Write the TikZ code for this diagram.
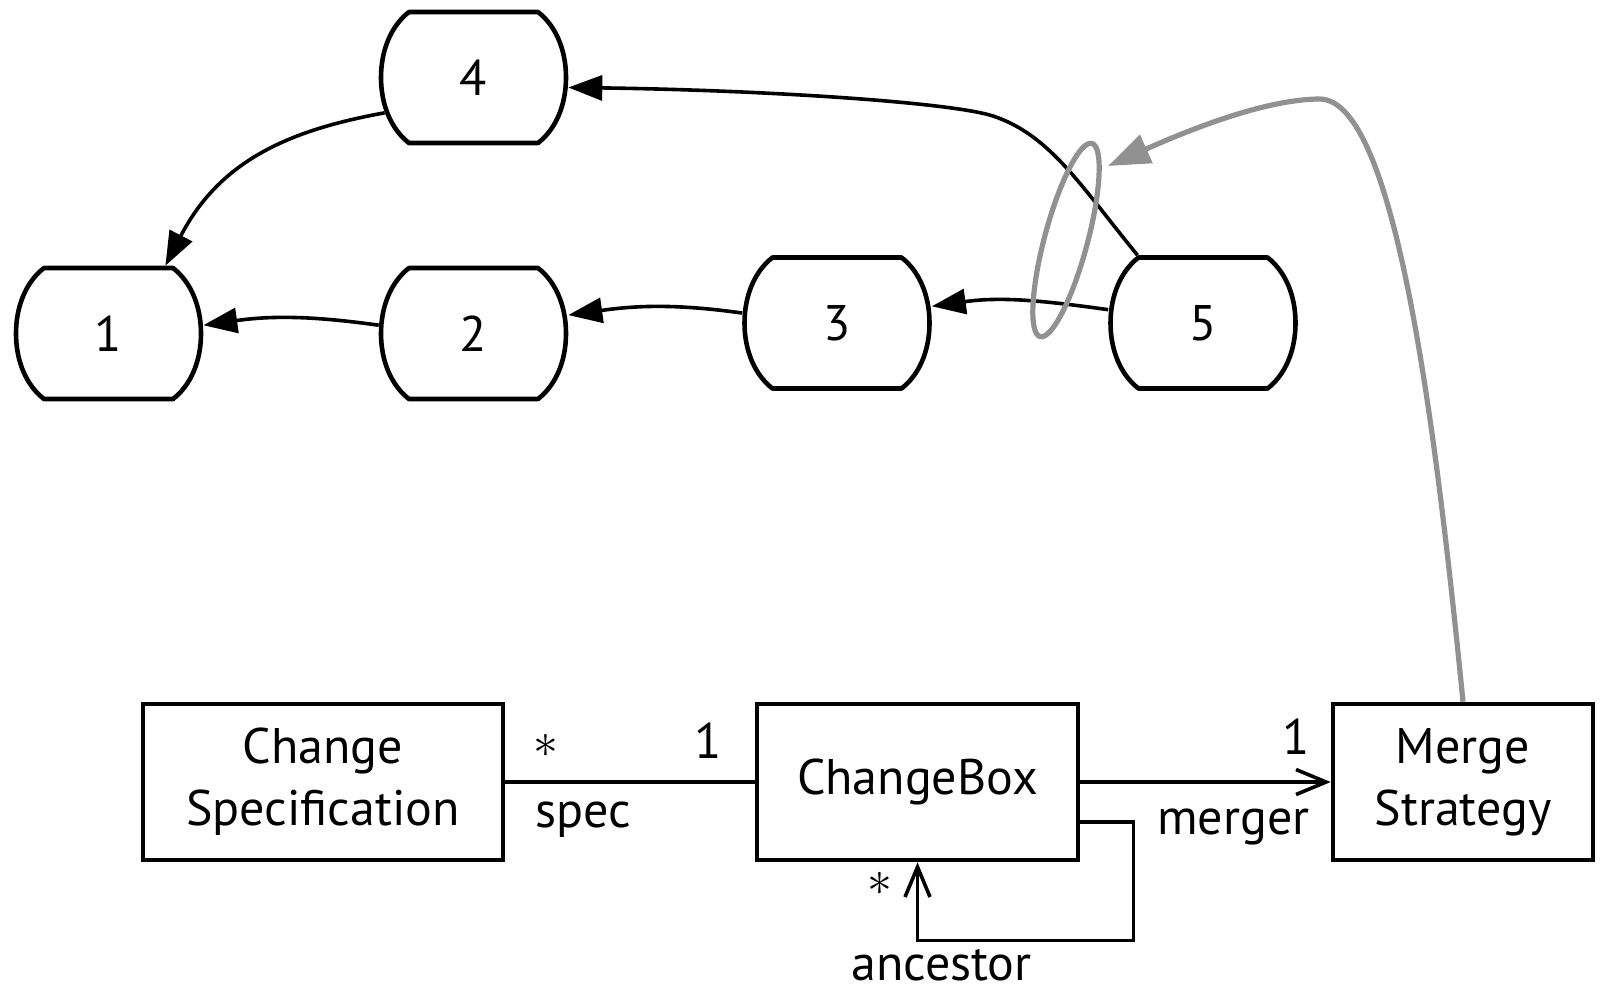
\documentclass[tikz,border=0pt]{standalone}
\usepackage{fontspec}
\setmainfont{PT Sans}
\usetikzlibrary{arrows.meta,shapes.geometric}
\definecolor{linkgray}{gray}{0.57}
\tikzset{
  version/.style={rectangle, minimum width=92.5pt, minimum height=65.5pt,
    inner sep=0pt, outer sep=1.15pt},
  barrel/.style={draw, line width=2.3pt, line join=round},
  klass/.style={rectangle, draw, line width=2.3pt, minimum height=78pt,
    align=center, inner sep=0pt},
  hist/.style={line width=1.8pt, -{Triangle[length=17pt,width=12.5pt]}},
  assoc/.style={line width=1.8pt},
  barb/.style={-{Straight Barb[length=15pt,width=12.5pt]}},
  lbl/.style={inner sep=0pt},
  hl/.style={draw=linkgray, line width=2.6pt},
}
\begin{document}
\begin{tikzpicture}[x=0.5pt, y=-0.5pt, font=\fontsize{25}{31}\selectfont]
            \useasboundingbox (0,0) rectangle (1605,993);

            % versions
            \node[version] (n1) at (108.5,333.5) {1};
            \node[version] (n2) at (473.5,333.5) {2};
            \node[version] (n4) at (473.5,77.5) {4};
            \node[version] (n3) at (837,323) {3};
            \node[version] (n5) at (1203,323) {5};
            \foreach \v in {n1,n2,n3,n4,n5}
                \draw[barrel, shift={(\v.center)}] (-64.5,-65.5) -- (64.5,-65.5)
                    .. controls (82,-52) and (92.5,-28) .. (92.5,0)
                    .. controls (92.5,28) and (82,52) .. (64.5,65.5) -- (-64.5,65.5)
                    .. controls (-82,52) and (-92.5,28) .. (-92.5,0)
                    .. controls (-92.5,-28) and (-82,-52) .. cycle;

            \draw[hist, shorten <=-3pt] (n4.201) .. controls (290,130) and (220,160) .. (n1.50);
            \draw[hist] (n2.175) to[out=172,in=8] (n1.5);
            \draw[hist] (n3.174) to[out=172,in=8] (n2.11);
            \draw[hist] (n5.172) to[out=172,in=8] (n3.10);
            \draw[hist] (n5.134) .. controls (1080,185) and (1050,135) .. (993,116)
                .. controls (950,102) and (760,90) .. (n4.-6);

            % model
            \node[klass, minimum width=180pt] (cs) at (323,782) {Change\\Specification};
            \node[klass, minimum width=160.5pt] (cb) at (917.5,782) {ChangeBox};
            \node[klass, minimum width=130pt] (ms) at (1463,782) {Merge\\Strategy};

            \draw[assoc] (cs.east) -- (cb.west);
            \draw[assoc, barb] (cb.east) -- (ms.west);
            \draw[assoc, barb] ([yshift=-20pt]cb.east) -- ++(53,0) |- ([yshift=-39pt]cb.south) -- (cb.south);

            \node[lbl] (specmany) at (546,746) {$\ast$};
            \node[lbl, anchor=base] (specone) at (708,758) {1};
            \node[lbl, anchor=base west] (specname) at (535,827) {spec};
            \node[lbl, anchor=base] (mergeone) at (1296,754) {1};
            \node[lbl, anchor=base east] (mergename) at (1310,834) {merger};
            \node[lbl] (ancmany) at (880,884) {$\ast$};
            \node[lbl, anchor=base west] (ancname) at (851,980) {ancestor};

            % merge strategy picks the parents
            \node[ellipse, hl, minimum width=100pt, minimum height=21.5pt, inner sep=0pt,
                rotate=75] (sel) at (1066,240) {};
            \coordinate (hit) at (1108,166);
            \draw[hl, -{Triangle[length=21pt,width=15pt]}, linkgray] (ms.north)
                .. controls (1435,420) and (1395,100) .. (1320,99)
                .. controls (1270,99) and (1200,125) .. (hit);
\end{tikzpicture}
\end{document}
